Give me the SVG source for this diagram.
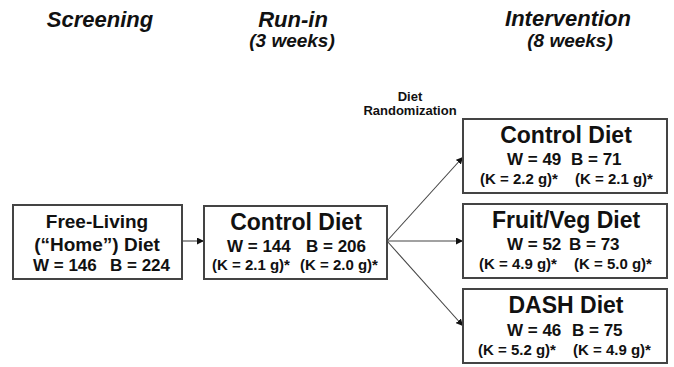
<svg xmlns="http://www.w3.org/2000/svg" width="674" height="367" viewBox="0 0 674 367">
<defs>
<style>
text{font-family:"Liberation Sans",Arial,sans-serif;font-weight:bold;fill:#111}
.hd{font-size:22px;font-style:italic;text-anchor:middle}
.sub{font-size:19px;font-style:italic;text-anchor:middle}
.rnd{font-size:13px;text-anchor:middle}
.t19{font-size:19px;text-anchor:middle}
.t23{font-size:23px;text-anchor:middle}
.wb{font-size:17px}
.k{font-size:15px}
.box{fill:#fff;stroke:#444;stroke-width:2}
.con{stroke:#444;stroke-width:1.1;fill:none}
</style>
<marker id="ah" viewBox="0 0 10 10" refX="10" refY="5" markerWidth="7" markerHeight="7" markerUnits="userSpaceOnUse" orient="auto">
<path d="M0,0 L10,5 L0,10 z" fill="#111"/>
</marker>
</defs>
<rect width="674" height="367" fill="#fff"/>
<g id="headers">
<text class="hd" x="100" y="27">Screening</text>
<text class="hd" x="293" y="27">Run-in</text>
<text class="sub" x="292" y="47">(3 weeks)</text>
<text class="hd" x="568" y="26">Intervention</text>
<text class="sub" x="570" y="47">(8 weeks)</text>
</g>
<g id="randomization-label">
<text class="rnd" x="410" y="101">Diet</text>
<text class="rnd" x="410" y="115">Randomization</text>
</g>
<g id="connectors">
<line class="con" x1="182" y1="241" x2="204" y2="241" marker-end="url(#ah)"/>
<line class="con" x1="387" y1="241" x2="463" y2="157" marker-end="url(#ah)"/>
<line class="con" x1="387" y1="241" x2="463" y2="241" marker-end="url(#ah)"/>
<line class="con" x1="387" y1="241" x2="463" y2="326" marker-end="url(#ah)"/>
</g>
<g id="free-living">
<rect class="box" x="13" y="205" width="169" height="74"/>
<text class="t19" x="97" y="228">Free-Living</text>
<text class="t19" x="97" y="251">(“Home”) Diet</text>
<text class="wb"><tspan x="33" y="271">W = 146</tspan><tspan x="110" y="271">B = 224</tspan></text>
</g>
<g id="runin-control">
<rect class="box" x="204" y="206" width="183" height="73"/>
<text class="t23" x="296" y="230">Control Diet</text>
<text class="wb"><tspan x="227" y="252">W = 144</tspan><tspan x="306" y="252">B = 206</tspan></text>
<text class="k"><tspan x="212" y="270">(K = 2.1 g)*</tspan><tspan x="300" y="270">(K = 2.0 g)*</tspan></text>
</g>
<g id="int-control">
<rect class="box" x="463" y="119" width="204" height="74"/>
<text class="t23" x="566" y="143">Control Diet</text>
<text class="wb"><tspan x="507" y="165">W = 49</tspan><tspan x="571" y="165">B = 71</tspan></text>
<text class="k"><tspan x="480" y="184">(K = 2.2 g)*</tspan><tspan x="575" y="184">(K = 2.1 g)*</tspan></text>
</g>
<g id="int-fruitveg">
<rect class="box" x="463" y="204" width="204" height="74"/>
<text class="t23" x="566" y="228">Fruit/Veg Diet</text>
<text class="wb"><tspan x="507" y="250">W = 52</tspan><tspan x="569" y="250">B = 73</tspan></text>
<text class="k"><tspan x="479" y="269">(K = 4.9 g)*</tspan><tspan x="574" y="269">(K = 5.0 g)*</tspan></text>
</g>
<g id="int-dash">
<rect class="box" x="463" y="289" width="204" height="74"/>
<text class="t23" x="566" y="313">DASH Diet</text>
<text class="wb"><tspan x="507" y="336">W = 46</tspan><tspan x="572" y="336">B = 75</tspan></text>
<text class="k"><tspan x="478" y="355">(K = 5.2 g)*</tspan><tspan x="573" y="355">(K = 4.9 g)*</tspan></text>
</g>
</svg>
